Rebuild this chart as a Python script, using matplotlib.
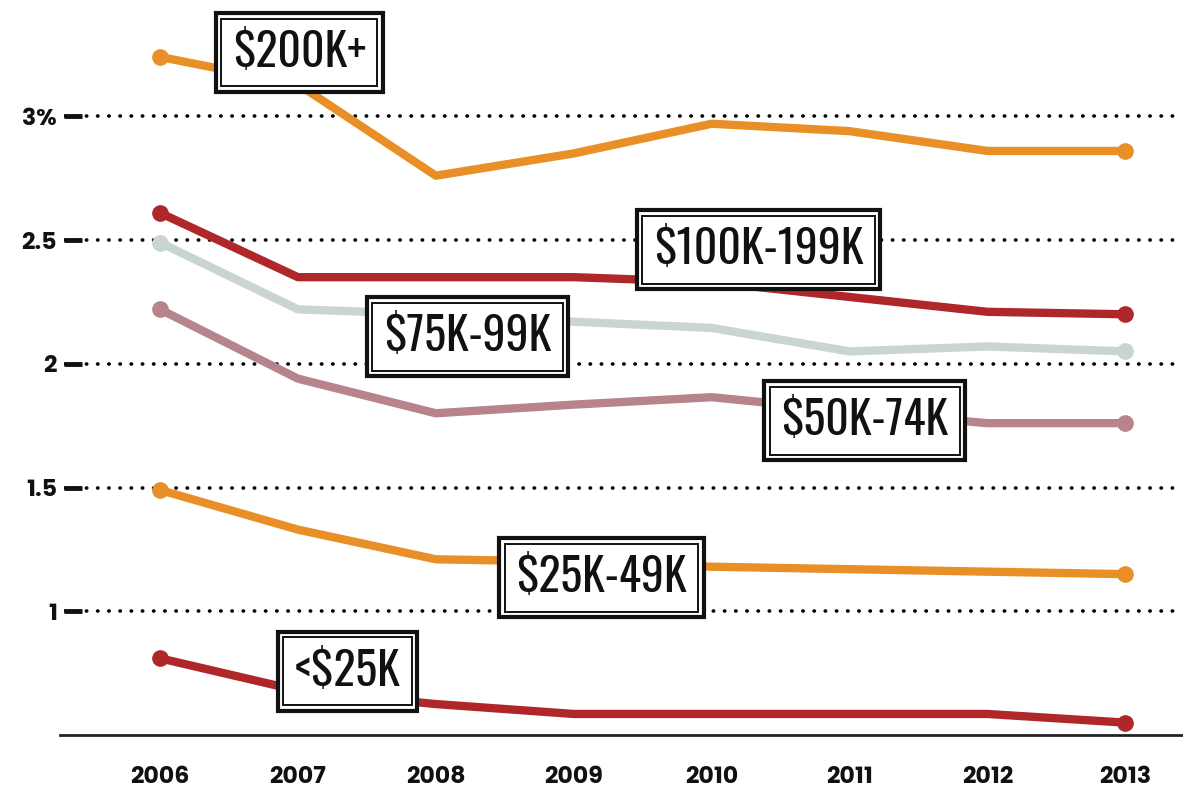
import matplotlib
matplotlib.use("Agg")
import matplotlib.pyplot as plt

years = [2006, 2007, 2008, 2009, 2010, 2011, 2012, 2013]
inc_200k = [3.24, 3.13, 2.76, 2.85, 2.97, 2.94, 2.86, 2.86]
inc_100k = [2.61, 2.35, 2.35, 2.35, 2.33, 2.27, 2.21, 2.20]
inc_75k = [2.49, 2.22, 2.20, 2.17, 2.145, 2.05, 2.07, 2.05]
inc_50k = [2.22, 1.94, 1.80, 1.835, 1.865, 1.81, 1.76, 1.76]
inc_25k = [1.49, 1.33, 1.21, 1.20, 1.18, 1.17, 1.16, 1.15]
inc_lt25k = [0.81, 0.68, 0.625, 0.585, 0.585, 0.585, 0.585, 0.55]

series_names = ["$200K+", "$100K-199K", "$75K-99K", "$50K-74K", "$25K-49K", "<$25K"]
series_vals = [inc_200k, inc_100k, inc_75k, inc_50k, inc_25k, inc_lt25k]
colors = ["#e88f28", "#b0272a", "#c9d6cf", "#b7848c", "#e88f28", "#b0272a"]
label_pos = [(2007.01, 3.258), (2010.34, 2.46), (2008.23, 2.11),
             (2011.11, 1.77), (2009.20, 1.135), (2007.36, 0.758)]

yticks = [1, 1.5, 2, 2.5, 3]
ytick_labels = ["1", "1.5", "2", "2.5", "3%"]

label_fonts = ["Oswald", "League Gothic", "Antonio", "DejaVu Sans"]
tick_fonts = ["Poppins", "Montserrat", "Lato", "DejaVu Sans"]

W, H = 1183, 792
fig = plt.figure(figsize=(W / 100, H / 100), dpi=100)
ax = fig.add_axes([64 / W, (H - 735) / H, (W - 64) / W, 735 / H])
ax.set_xlim(2005.275 + 4 / 137.9, 2013.418)
ax.set_ylim(0.5, 3.47)

for y in yticks:
    ax.axhline(y, color="black", lw=2.6, linestyle=(0, (0.1, 3.0)),
               dash_capstyle="round", zorder=1)

for name, vals, c in zip(series_names, series_vals, colors):
    ax.plot(years, vals, color=c, lw=6, solid_joinstyle="round",
            solid_capstyle="round", zorder=3)
    ax.plot([years[0], years[-1]], [vals[0], vals[-1]], "o", color=c,
            markersize=11, zorder=4)

for name, (x, y) in zip(series_names, label_pos):
    ax.text(x, y, name, ha="center", va="center", fontsize=33,
            family=label_fonts, color="#111111", zorder=6,
            bbox=dict(boxstyle="square,pad=0.37", fc="white", ec="#111111", lw=3))
    ax.text(x, y, name, ha="center", va="center", fontsize=33,
            family=label_fonts, color="none", zorder=7,
            bbox=dict(boxstyle="square,pad=0.25", fc="none", ec="#111111", lw=1.4))

for side in ["top", "right", "left"]:
    ax.spines[side].set_visible(False)
ax.spines["bottom"].set_linewidth(2)
ax.spines["bottom"].set_color("#222222")
ax.spines["bottom"].set_bounds(2005.275, 2013.418)

ax.set_yticks(yticks)
ax.set_yticklabels(ytick_labels, fontsize=17, fontweight="bold", family=tick_fonts)
ax.tick_params(axis="y", direction="in", length=13, width=3.5, pad=5, colors="#111111")
ax.set_xticks(years)
ax.set_xticklabels([str(y) for y in years], fontsize=17, fontweight="bold", family=tick_fonts)
ax.tick_params(axis="x", length=0, pad=22, colors="#111111")

fig.savefig("out.png", dpi=100)
